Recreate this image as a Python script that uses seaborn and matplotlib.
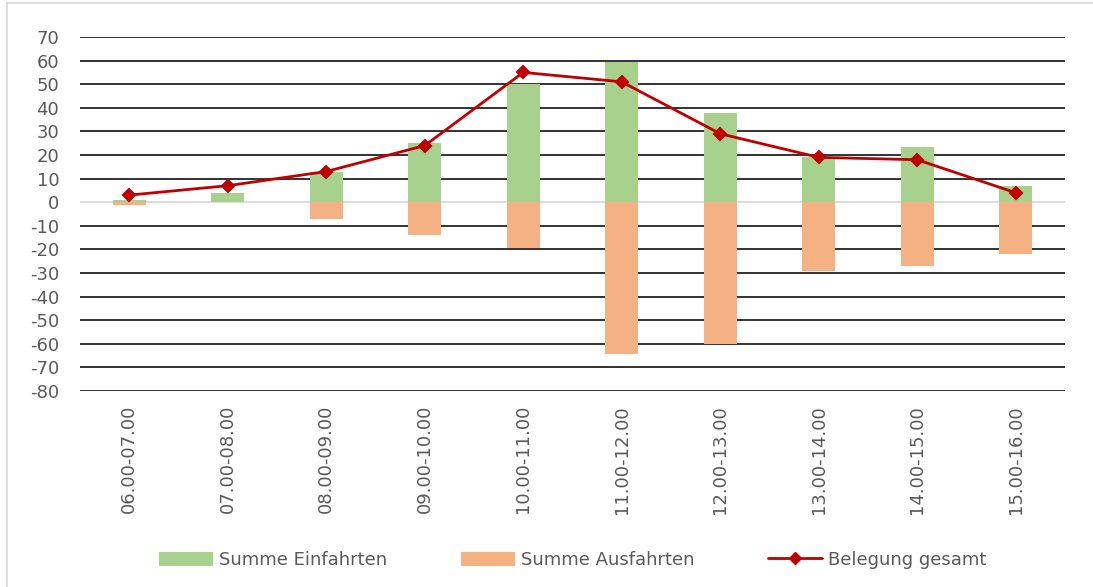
import pandas as pd
import matplotlib.pyplot as plt
import seaborn as sns
from matplotlib.patches import Patch, Rectangle
from matplotlib.lines import Line2D

# values
zeiten = ["06.00-07.00", "07.00-08.00", "08.00-09.00", "09.00-10.00", "10.00-11.00",
          "11.00-12.00", "12.00-13.00", "13.00-14.00", "14.00-15.00", "15.00-16.00"]
einfahrten = [1, 4, 13, 25, 50, 59.5, 38, 19, 23.5, 7]
ausfahrten = [-1, 0, -7, -14, -19.5, -64.5, -60, -29, -27, -22]
belegung = [3, 7, 13, 24, 55, 51, 29, 19, 18, 4]

GREEN = "#A9D18E"
ORANGE = "#F4B183"
RED = "#C00000"
TEXT = "#595959"

sns.set_style("white")
plt.rcParams["font.family"] = ["DejaVu Sans"]
plt.rcParams["axes.unicode_minus"] = False

df = pd.DataFrame({
    "zeit": zeiten * 2,
    "wert": einfahrten + ausfahrten,
    "serie": ["Summe Einfahrten"] * len(zeiten) + ["Summe Ausfahrten"] * len(zeiten),
})
df_line = pd.DataFrame({"zeit": zeiten, "belegung": belegung})

fig = plt.figure(figsize=(10.93, 5.87), dpi=100)
ax = fig.add_axes([80 / 1093, 1 - 391 / 587, (1065 - 80) / 1093, (391 - 37) / 587])

# gridlines first so bars sit on top
for v in range(-80, 80, 10):
    if v == 0:
        continue
    ax.axhline(v, color="#222222", lw=1.3, zorder=0)
ax.axhline(0, color="#d9d9d9", lw=1.3, zorder=0.5)

sns.barplot(data=df, x="zeit", y="wert", hue="serie", dodge=False, width=0.33,
            palette={"Summe Einfahrten": GREEN, "Summe Ausfahrten": ORANGE},
            saturation=1, order=zeiten, legend=False, linewidth=0, ax=ax, zorder=1)
sns.pointplot(data=df_line, x="zeit", y="belegung", order=zeiten, color=RED,
              markers="D", linewidth=2, markersize=6.5, errorbar=None, ax=ax, zorder=3)

ax.set_xlim(-0.5, len(zeiten) - 0.5)
ax.set_ylim(-80, 70)
ax.set_yticks(range(-80, 80, 10))
ax.set_xlabel("")
ax.set_ylabel("")
for s in ax.spines.values():
    s.set_visible(False)
ax.tick_params(axis="both", length=0, colors=TEXT, labelsize=13)
ax.tick_params(axis="x", rotation=90, pad=10)
ax.tick_params(axis="y", pad=15)

handles = [
    Patch(facecolor=GREEN, edgecolor="none"),
    Patch(facecolor=ORANGE, edgecolor="none"),
    Line2D([], [], color=RED, lw=2, marker="D", markersize=6.5),
]
labels = ["Summe Einfahrten", "Summe Ausfahrten", "Belegung gesamt"]
leg = fig.legend(handles, labels, loc="center", bbox_to_anchor=(0.524, 1 - 560 / 587),
                 ncol=3, frameon=False, fontsize=13, handlelength=3.0,
                 handleheight=0.8, handletextpad=0.3, columnspacing=4.1)
for t in leg.get_texts():
    t.set_color(TEXT)

# light outer frame of the chart area
fig.patches.append(Rectangle((7 / 1093, -0.01), 1.1, 1 - 3 / 587 + 0.01,
                             transform=fig.transFigure, fill=False,
                             edgecolor="#d9d9d9", lw=1.2))

fig.savefig("out.png", dpi=100)
